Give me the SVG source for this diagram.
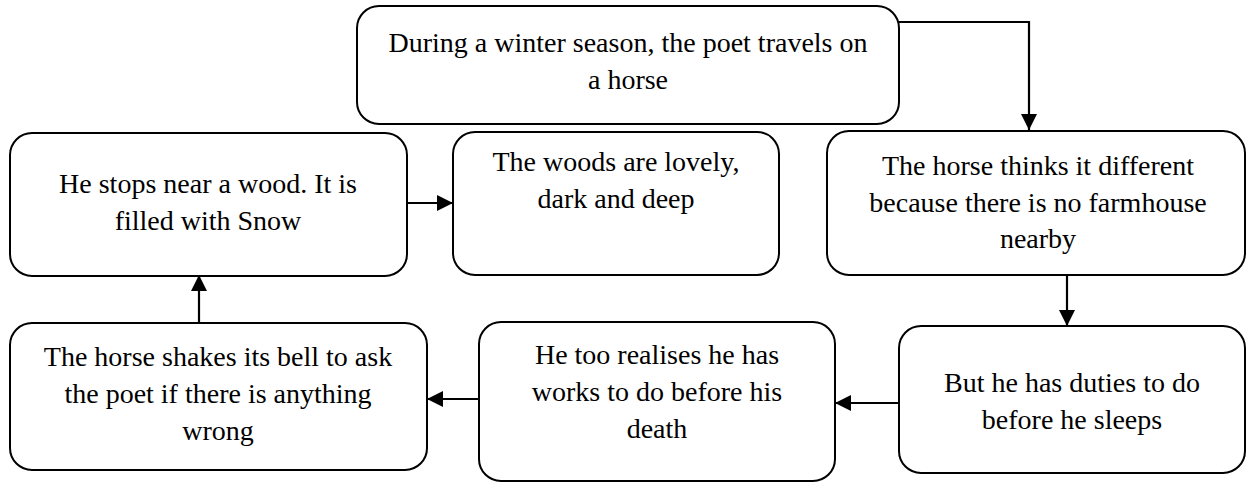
<svg xmlns="http://www.w3.org/2000/svg" width="1247" height="483" viewBox="0 0 1247 483">
<style>
.box{fill:#fff;stroke:#000;stroke-width:2}
.c{fill:none;stroke:#000;stroke-width:2.2}
</style>
<defs>
<marker id="ah" viewBox="0 0 16 16" refX="16" refY="8" markerWidth="16" markerHeight="16" markerUnits="userSpaceOnUse" orient="auto">
<path d="M0,0 L16,8 L0,16 Z" fill="#000"/>
</marker>
</defs>
<rect width="1247" height="483" fill="#fff"/>
<g id="connectors">
<path class="c" d="M899,22 H1029 V130" marker-end="url(#ah)"/>
<path class="c" d="M407,203 H453" marker-end="url(#ah)"/>
<path class="c" d="M1067,275 V326" marker-end="url(#ah)"/>
<path class="c" d="M899,403 H835" marker-end="url(#ah)"/>
<path class="c" d="M479,399 H427" marker-end="url(#ah)"/>
<path class="c" d="M199,323 V275" marker-end="url(#ah)"/>
</g>
<g id="n1" font-family="Liberation Serif" font-size="28" text-anchor="middle">
<rect class="box" x="357" y="6" width="542" height="118" rx="22"/>
<text x="628" y="52" font-family="Liberation Serif">During a winter season, the poet travels on</text>
<text x="628" y="89" font-family="Liberation Serif">a horse</text>
</g>
<g id="n2" font-family="Liberation Serif" font-size="28" text-anchor="middle">
<rect class="box" x="10" y="133" width="397" height="143" rx="22"/>
<text x="208" y="193" font-family="Liberation Serif">He stops near a wood. It is</text>
<text x="208" y="230" font-family="Liberation Serif">filled with Snow</text>
</g>
<g id="n3" font-family="Liberation Serif" font-size="28" text-anchor="middle">
<rect class="box" x="453" y="132" width="326" height="143" rx="22"/>
<text x="616" y="171" font-family="Liberation Serif">The woods are lovely,</text>
<text x="616" y="208" font-family="Liberation Serif">dark and deep</text>
</g>
<g id="n4" font-family="Liberation Serif" font-size="28" text-anchor="middle">
<rect class="box" x="827" y="131" width="418" height="144" rx="22"/>
<text x="1038" y="175" font-family="Liberation Serif">The horse thinks it different</text>
<text x="1038" y="212" font-family="Liberation Serif">because there is no farmhouse</text>
<text x="1038" y="248" font-family="Liberation Serif">nearby</text>
</g>
<g id="n5" font-family="Liberation Serif" font-size="28" text-anchor="middle">
<rect class="box" x="899" y="326" width="346" height="147" rx="22"/>
<text x="1072" y="392" font-family="Liberation Serif">But he has duties to do</text>
<text x="1072" y="429" font-family="Liberation Serif">before he sleeps</text>
</g>
<g id="n6" font-family="Liberation Serif" font-size="28" text-anchor="middle">
<rect class="box" x="479" y="322" width="356" height="159" rx="22"/>
<text x="657" y="364" font-family="Liberation Serif">He too realises he has</text>
<text x="657" y="401" font-family="Liberation Serif">works to do before his</text>
<text x="657" y="438" font-family="Liberation Serif">death</text>
</g>
<g id="n7" font-family="Liberation Serif" font-size="28" text-anchor="middle">
<rect class="box" x="10" y="323" width="417" height="147" rx="22"/>
<text x="218" y="366" font-family="Liberation Serif">The horse shakes its bell to ask</text>
<text x="218" y="403" font-family="Liberation Serif">the poet if there is anything</text>
<text x="218" y="440" font-family="Liberation Serif">wrong</text>
</g>
</svg>
